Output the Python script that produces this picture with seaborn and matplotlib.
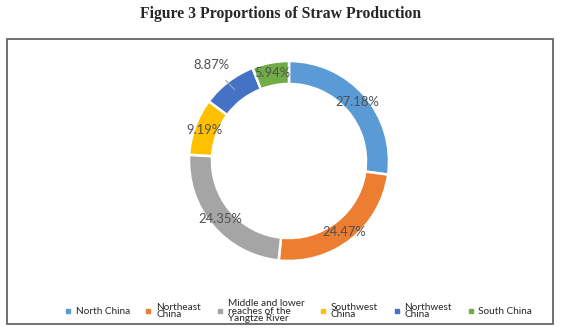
import matplotlib
matplotlib.use("Agg")
import matplotlib.pyplot as plt
import seaborn as sns
import numpy as np
from matplotlib.lines import Line2D
from matplotlib.patches import Rectangle

regions = ["North China", "Northeast\nChina", "Middle and lower\nreaches of the\nYangtze River",
           "Southwest\nChina", "Northwest\nChina", "South China"]
shares = [27.18, 24.47, 24.35, 9.19, 8.87, 5.94]
pct_labels = ["27.18%", "24.47%", "24.35%", "9.19%", "8.87%", "5.94%"]
colors = ["#5B9BD5", "#ED7D31", "#A5A5A5", "#FFC000", "#4472C4", "#70AD47"]

sns.set_theme(style="white")
plt.rcParams['font.family'] = ['Lato', 'DejaVu Sans']

W, H = 564, 335
fig = plt.figure(figsize=(W / 100, H / 100), dpi=100)

# chart border
fig.add_artist(Rectangle((7 / W, 1 - 324 / H), 546 / W, 285 / H, transform=fig.transFigure,
                         fill=False, edgecolor="#666666", linewidth=1.3))

fig.text(281 / W, 1 - 14 / H, "Figure 3 Proportions of Straw Production",
         ha="center", va="center", fontsize=11.3, fontweight="bold",
         family=["Liberation Serif", "DejaVu Serif"])

cx, cy, R = 289, 161, 100
ax = fig.add_axes([(cx - R) / W, 1 - (cy + R) / H, 2 * R / W, 2 * R / H])
wedges, _ = ax.pie(shares, colors=colors, startangle=90, counterclock=False,
                   wedgeprops=dict(width=0.23, edgecolor="white", linewidth=1.8))
ax.set_xlim(-1, 1)
ax.set_ylim(-1, 1)
ax.set_aspect("equal")
ax.axis("off")

cum = np.cumsum([0] + shares[:-1])
for i, (s, c0, lab) in enumerate(zip(shares, cum, pct_labels)):
    ang = np.deg2rad(90 - (c0 + s / 2) * 3.6)
    if i == 4:
        ax.annotate(lab, xy=(-0.54, 0.71), xytext=(-0.78, 0.96),
                    ha="center", va="center", fontsize=9.4, color="#505050",
                    arrowprops=dict(arrowstyle="-", color="#A6A6A6", lw=0.8,
                                    shrinkA=6, shrinkB=0),
                    annotation_clip=False)
    else:
        ax.text(0.9 * np.cos(ang), 0.9 * np.sin(ang), lab, ha="center", va="center",
                fontsize=9.4, color="#505050", clip_on=False)

handles = [Line2D([0], [0], marker="s", linestyle="", markersize=3.5,
                  markerfacecolor=c, markeredgecolor=c) for c in colors]
leg = fig.legend(handles, regions, loc="center", ncol=6,
                 bbox_to_anchor=(298 / W, 1 - 311 / H), frameon=False,
                 fontsize=7.2, handlelength=0.8, handletextpad=0.4,
                 columnspacing=1.45, labelspacing=0)
for t in leg.get_texts():
    t.set_linespacing(0.8)
    t.set_color("#262626")

fig.savefig("out.png", dpi=100)
